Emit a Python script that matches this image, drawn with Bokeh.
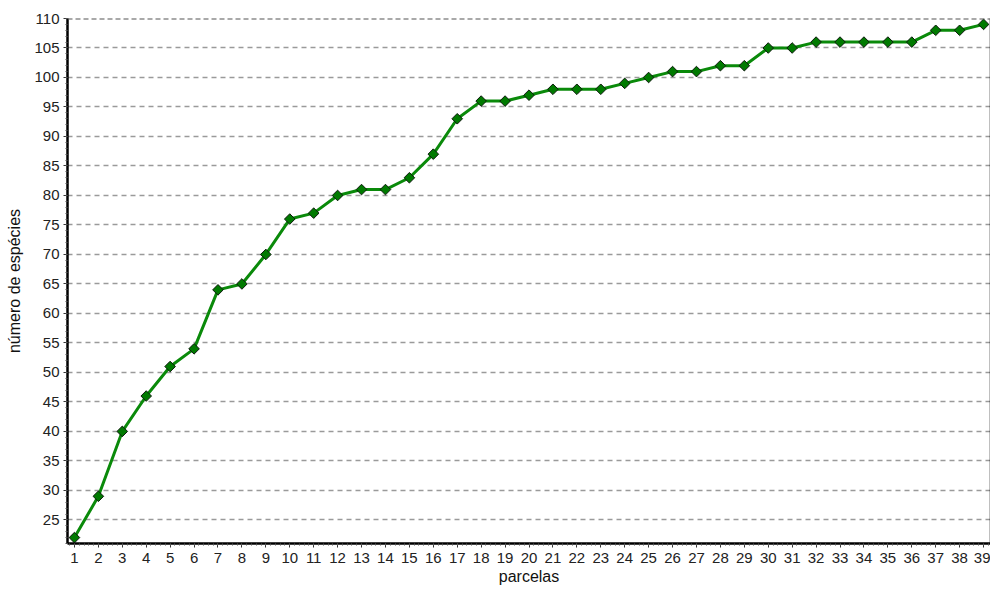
from bokeh.plotting import figure
from bokeh.models import SingleIntervalTicker, FixedTicker, Range1d, Span, LinearAxis, ColumnDataSource
from bokeh.embed import file_html
from bokeh.resources import INLINE

parcelas = list(range(1, 40))
especies = [22, 29, 40, 46, 51, 54, 64, 65, 70, 76, 77, 80, 81, 81, 83, 87, 93, 96, 96,
            97, 98, 98, 98, 99, 100, 101, 101, 102, 102, 105, 105, 106, 106, 106, 106,
            106, 108, 108, 109]
x_label = "parcelas"
y_label = "número de espécies"

src = ColumnDataSource(dict(x=parcelas, y=especies))

FONT = "Liberation Sans"

p = figure(width=990, height=587, output_backend="svg", toolbar_location=None,
           x_range=Range1d(0.71, 39.29), y_range=Range1d(21, 110),
           min_border_left=67, min_border_right=0, min_border_top=18, min_border_bottom=44)
p.outline_line_color = None
p.background_fill_color = "white"

# axes
for ax, t in ((p.xaxis[0], SingleIntervalTicker(interval=1, num_minor_ticks=5)),
              (p.yaxis[0], SingleIntervalTicker(interval=5, num_minor_ticks=5))):
    ax.ticker = t
    ax.axis_line_color = "black"
    ax.axis_line_width = 2.5
    ax.major_tick_line_color = "#333333"
    ax.major_tick_in = 0
    ax.major_tick_out = 4
    ax.minor_tick_line_color = "#555555"
    ax.minor_tick_in = 0
    ax.minor_tick_out = 2
    ax.major_label_text_font = FONT
    ax.major_label_text_font_size = "15px"
    ax.major_label_text_color = "#222222"
    ax.axis_label_text_font = FONT
    ax.axis_label_text_font_size = "16px"
    ax.axis_label_text_font_style = "normal"
    ax.axis_label_text_color = "#111111"

p.xaxis.axis_label = x_label
p.yaxis.axis_label = y_label
p.xaxis.major_label_standoff = 5
p.xaxis.axis_label_standoff = 2
p.yaxis.major_label_standoff = 4
p.yaxis.axis_label_standoff = 8

# right border (axis line only)
rax = LinearAxis(ticker=FixedTicker(ticks=[]), major_tick_line_color=None,
                 minor_tick_line_color=None, major_tick_out=0, minor_tick_out=0,
                 major_label_standoff=0,
                 axis_line_color="black", axis_line_width=1.5)
p.add_layout(rax, "right")

# grid
p.xgrid.grid_line_color = None
p.ygrid.grid_line_color = "#9a9a9a"
p.ygrid.grid_line_dash = "5 4"
p.ygrid.grid_line_width = 1.5
p.add_layout(Span(location=110, dimension="width", line_color="#555555",
                  line_dash="5 3", line_width=2))

p.line("x", "y", source=src, line_color="#0a8a0a", line_width=3)
p.scatter("x", "y", source=src, marker="square", size=7.5, angle=0.785398,
          fill_color="#007a00", line_color="#0d1a0d", line_width=1)

open("out.html", "w").write(file_html(p, INLINE))
